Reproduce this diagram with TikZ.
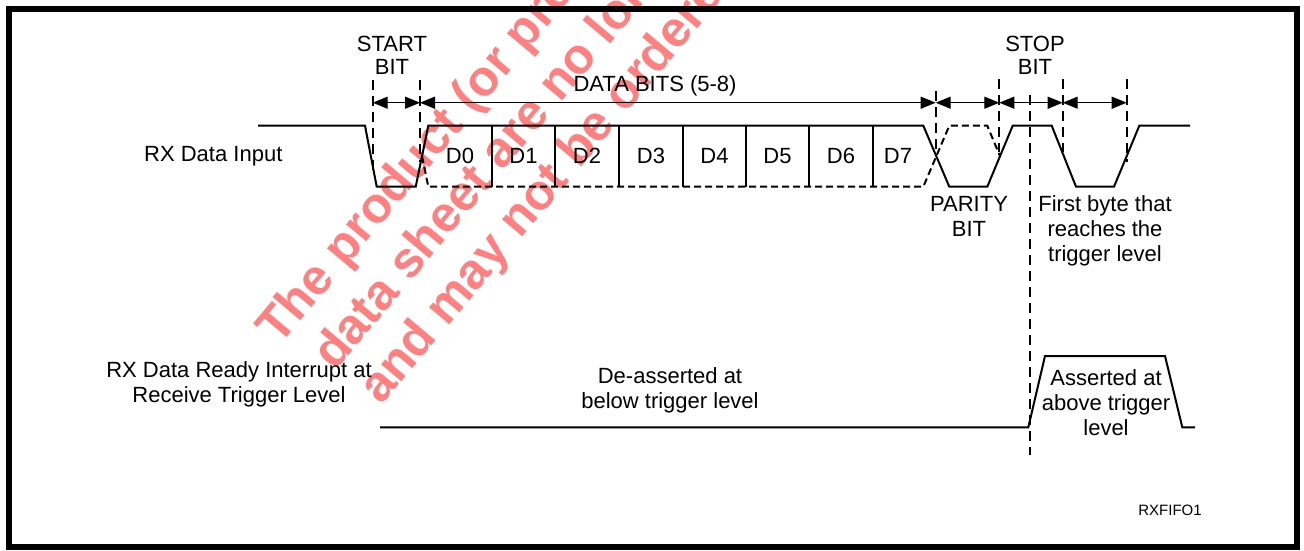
\documentclass[tikz,border=0pt]{standalone}
\usepackage{fontspec}
\setmainfont{Liberation Sans}
\usetikzlibrary{arrows.meta}
\begin{document}
\begin{tikzpicture}[x=1pt,y=-1pt,>={Triangle[length=15pt,width=12pt]},
    lbl/.style={font=\fontsize{22}{25}\selectfont,align=center,inner sep=0pt},
    wave/.style={line width=2pt},
    guide/.style={line width=1.7pt,dash pattern=on 10pt off 6pt},
    maybe/.style={line width=2pt,dash pattern=on 7pt off 4pt},
    wmark/.style={font=\fontsize{50}{58}\selectfont\bfseries,text=red!50,
      rotate=50,anchor=base west,inner sep=0pt}]
  \useasboundingbox (0,0) rectangle (1304,550);

  % watermark
  \begin{scope}
    \clip (0,0) rectangle (1304,550);
    \node[wmark] (wm1) at (279,347) {The product (or pro};
    \node[wmark] (wm2) at (335,372) {data sheet are no lon};
    \node[wmark] (wm3) at (381,406) {and may not be ordere};
  \end{scope}

  \draw[line width=6pt] (9,9) rectangle (1297,547);

  % time marks
  \coordinate (t0) at (372.7,102.7);
  \coordinate (t1) at (420,102.7);
  \coordinate (t2) at (935.7,102.7);
  \coordinate (t3) at (999.3,102.7);
  \coordinate (t4) at (1062.7,102.7);
  \coordinate (t5) at (1126.7,102.7);
  \draw[guide] (372.7,80) -- (372.7,170);
  \draw[guide] (420,80) -- (420,162);
  \draw[guide] (935.7,91) -- (935.7,152);
  \draw[guide] (999.3,79) -- (999.3,152);
  \draw[guide] (1062.7,79) -- (1062.7,152);
  \draw[guide] (1126.7,79) -- (1126.7,162);
  \draw[guide] (1030,95) -- (1030,455);

  \draw[<->,line width=1.3pt] (t0) -- (t1);
  \draw[<->,line width=1.3pt] (t1) -- (t2);
  \draw[<->,line width=1.3pt] (t2) -- (t3);
  \draw[<->,line width=1.3pt] (t3) -- (t4);
  \draw[<->,line width=1.3pt] (t4) -- (t5);

  % RX data input
  \draw[wave] (258,125.7) -- (365,125.7) -- (376.7,186.7) -- (415.7,186.7)
    -- (428.3,125.7) -- (923.3,125.7) -- (949.3,186.7) -- (987.3,186.7)
    -- (1012.7,125.7) -- (1051.7,125.7) -- (1076,186.7) -- (1114,186.7)
    -- (1139.3,125.7) -- (1190,125.7);
  \draw[maybe] (422,156.2) -- (428.3,186.7) -- (923.3,186.7) -- (949.3,125.7)
    -- (987.3,125.7) -- (1000,156.2);
  \foreach \x in {492,555,619,683,746,809,873}
    \draw[wave] (\x,125.7) -- (\x,186.7);
  \foreach \x/\b in {460/0,523.5/1,587/2,651/3,714.5/4,777.5/5,841/6,898/7}
    \node[lbl] (d\b) at (\x,156) {D\b};

  % interrupt
  \draw[wave] (380,427.3) -- (1028.3,427.3) -- (1045,356) -- (1165,356)
    -- (1182.3,427.3) -- (1195,427.3);

  \node[lbl,font=\fontsize{22}{23.5}\selectfont] (start) at (392,55.5) {START\\BIT};
  \node[lbl,font=\fontsize{22}{23.5}\selectfont] (stop) at (1035,55.5) {STOP\\BIT};
  \node[lbl] (data) at (655,85.4) {DATA BITS (5-8)};
  \node[lbl] (parity) at (969,216.5) {PARITY\\BIT};
  \node[lbl] (first) at (1105,231.1) {First byte that\\reaches the\\trigger level};
  \node[lbl] (rxin) at (213.3,156.3) {RX Data Input};
  \node[lbl] (rxrdy) at (239,384) {RX Data Ready Interrupt at\\Receive Trigger Level};
  \node[lbl] (deass) at (670,390.6) {De-asserted at\\below trigger level};
  \node[lbl] (ass) at (1106,403) {Asserted at\\above trigger\\level};
  \node[inner sep=0pt,font=\fontsize{15}{18}\selectfont] (fig) at (1170,510) {RXFIFO1};
\end{tikzpicture}
\end{document}
